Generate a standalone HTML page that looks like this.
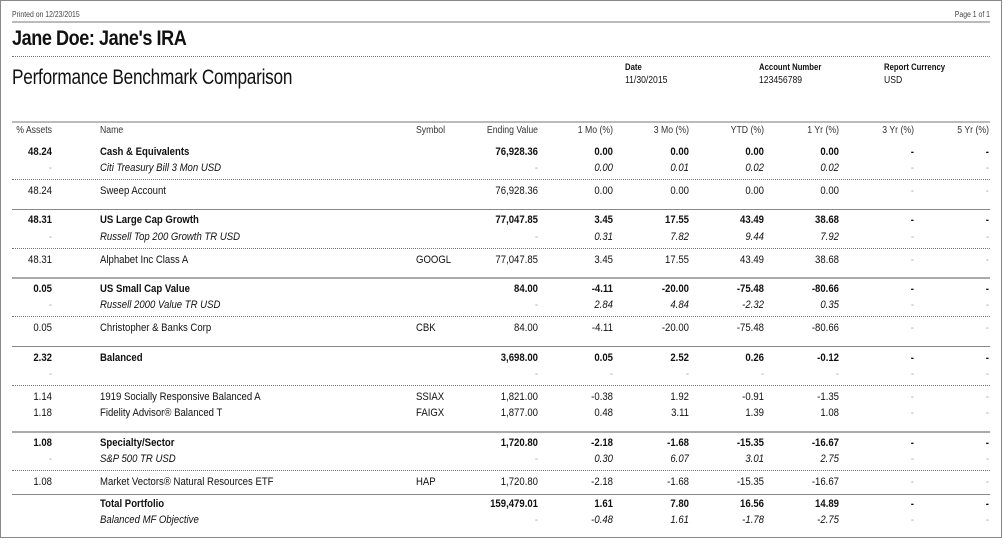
<!DOCTYPE html>
<html><head><meta charset="utf-8"><style>
*{margin:0;padding:0;box-sizing:border-box}
body{width:1003px;height:546px;background:#fff;position:relative;overflow:hidden;font-family:"Liberation Sans Narrow","Liberation Sans",sans-serif;color:#111}
.frame{position:absolute;left:0;top:0;width:1002px;height:538px;border:1px solid #888}
.a{position:absolute;transform:scaleX(0.86);transform-origin:left top;white-space:nowrap}
.ar{transform-origin:right top}
.hl{position:absolute;left:12px;width:978px}
.sg{border-top:2px solid #bbb}
.s{border-top:1px solid #888}
.s2{border-top:2px solid #aaa}
.d{border-top:1px dotted #777}
.r{position:absolute;left:0;width:1003px;height:14px;line-height:14px;font-size:11px}
.r span{position:absolute;top:0;white-space:nowrap;transform:scaleX(0.87);transform-origin:right center}
.r span.c1,.r span.c2{transform-origin:left center}
.c0{left:0;width:52px;text-align:right}
.c1{left:100px}
.c2{left:416px}
.c3{left:440px;width:98px;text-align:right}
.c4{left:553px;width:60px;text-align:right}
.c5{left:629px;width:60px;text-align:right}
.c6{left:704px;width:60px;text-align:right}
.c7{left:779px;width:60px;text-align:right}
.c8{left:854px;width:60px;text-align:right}
.c9{left:929px;width:60px;text-align:right}
.b{font-weight:bold}
.i{font-style:italic}
.g{color:#aaa}
.h{font-size:10px;color:#333}
</style></head><body>
<div class="frame"></div>
<div class="a" style="left:12px;top:10px;font-size:8px;color:#444">Printed on 12/23/2015</div>
<div class="a ar" style="left:940px;top:10px;width:50px;text-align:right;font-size:8px;color:#444">Page 1 of 1</div>
<div class="hl sg" style="top:21px"></div>
<div class="a" style="left:12px;top:27px;font-size:21px;font-weight:bold;letter-spacing:-0.5px">Jane Doe: Jane's IRA</div>
<div class="hl d" style="top:56px"></div>
<div class="a" style="left:12px;top:66px;font-size:21px;letter-spacing:-0.3px;transform:scaleX(0.82)">Performance Benchmark Comparison</div>
<div class="a b" style="left:625px;top:62px;font-size:9px">Date</div>
<div class="a" style="left:625px;top:75px;font-size:10px">11/30/2015</div>
<div class="a b" style="left:759px;top:62px;font-size:9px">Account Number</div>
<div class="a" style="left:759px;top:75px;font-size:10px">123456789</div>
<div class="a b" style="left:884px;top:62px;font-size:9px">Report Currency</div>
<div class="a" style="left:884px;top:75px;font-size:10px">USD</div>
<div class="hl sg" style="top:121px"></div>

<div class="r h" style="top:124px"><span class="c0">% Assets</span><span class="c1">Name</span><span class="c2">Symbol</span><span class="c3">Ending Value</span><span class="c4">1 Mo (%)</span><span class="c5">3 Mo (%)</span><span class="c6">YTD (%)</span><span class="c7">1 Yr (%)</span><span class="c8">3 Yr (%)</span><span class="c9">5 Yr (%)</span></div>

<div class="r b" style="top:145px"><span class="c0">48.24</span><span class="c1">Cash &amp; Equivalents</span><span class="c3">76,928.36</span><span class="c4">0.00</span><span class="c5">0.00</span><span class="c6">0.00</span><span class="c7">0.00</span><span class="c8">-</span><span class="c9">-</span></div>
<div class="r i" style="top:161px"><span class="c0 g">-</span><span class="c1">Citi Treasury Bill 3 Mon USD</span><span class="c3 g">-</span><span class="c4">0.00</span><span class="c5">0.01</span><span class="c6">0.02</span><span class="c7">0.02</span><span class="c8 g">-</span><span class="c9 g">-</span></div>
<div class="hl d" style="top:179px"></div>
<div class="r" style="top:184px"><span class="c0">48.24</span><span class="c1">Sweep Account</span><span class="c3">76,928.36</span><span class="c4">0.00</span><span class="c5">0.00</span><span class="c6">0.00</span><span class="c7">0.00</span><span class="c8 g">-</span><span class="c9 g">-</span></div>
<div class="hl s" style="top:209px"></div>

<div class="r b" style="top:213px"><span class="c0">48.31</span><span class="c1">US Large Cap Growth</span><span class="c3">77,047.85</span><span class="c4">3.45</span><span class="c5">17.55</span><span class="c6">43.49</span><span class="c7">38.68</span><span class="c8">-</span><span class="c9">-</span></div>
<div class="r i" style="top:230px"><span class="c0 g">-</span><span class="c1">Russell Top 200 Growth TR USD</span><span class="c3 g">-</span><span class="c4">0.31</span><span class="c5">7.82</span><span class="c6">9.44</span><span class="c7">7.92</span><span class="c8 g">-</span><span class="c9 g">-</span></div>
<div class="hl d" style="top:248px"></div>
<div class="r" style="top:253px"><span class="c0">48.31</span><span class="c1">Alphabet Inc Class A</span><span class="c2">GOOGL</span><span class="c3">77,047.85</span><span class="c4">3.45</span><span class="c5">17.55</span><span class="c6">43.49</span><span class="c7">38.68</span><span class="c8 g">-</span><span class="c9 g">-</span></div>
<div class="hl s2" style="top:277px"></div>

<div class="r b" style="top:282px"><span class="c0">0.05</span><span class="c1">US Small Cap Value</span><span class="c3">84.00</span><span class="c4">-4.11</span><span class="c5">-20.00</span><span class="c6">-75.48</span><span class="c7">-80.66</span><span class="c8">-</span><span class="c9">-</span></div>
<div class="r i" style="top:298px"><span class="c0 g">-</span><span class="c1">Russell 2000 Value TR USD</span><span class="c3 g">-</span><span class="c4">2.84</span><span class="c5">4.84</span><span class="c6">-2.32</span><span class="c7">0.35</span><span class="c8 g">-</span><span class="c9 g">-</span></div>
<div class="hl d" style="top:316px"></div>
<div class="r" style="top:321px"><span class="c0">0.05</span><span class="c1">Christopher &amp; Banks Corp</span><span class="c2">CBK</span><span class="c3">84.00</span><span class="c4">-4.11</span><span class="c5">-20.00</span><span class="c6">-75.48</span><span class="c7">-80.66</span><span class="c8 g">-</span><span class="c9 g">-</span></div>
<div class="hl s" style="top:346px"></div>

<div class="r b" style="top:351px"><span class="c0">2.32</span><span class="c1">Balanced</span><span class="c3">3,698.00</span><span class="c4">0.05</span><span class="c5">2.52</span><span class="c6">0.26</span><span class="c7">-0.12</span><span class="c8">-</span><span class="c9">-</span></div>
<div class="r i" style="top:367px"><span class="c0 g">-</span><span class="c3 g">-</span><span class="c4 g">-</span><span class="c5 g">-</span><span class="c6 g">-</span><span class="c7 g">-</span><span class="c8 g">-</span><span class="c9 g">-</span></div>
<div class="hl d" style="top:385px"></div>
<div class="r" style="top:390px"><span class="c0">1.14</span><span class="c1">1919 Socially Responsive Balanced A</span><span class="c2">SSIAX</span><span class="c3">1,821.00</span><span class="c4">-0.38</span><span class="c5">1.92</span><span class="c6">-0.91</span><span class="c7">-1.35</span><span class="c8 g">-</span><span class="c9 g">-</span></div>
<div class="r" style="top:406px"><span class="c0">1.18</span><span class="c1">Fidelity Advisor® Balanced T</span><span class="c2">FAIGX</span><span class="c3">1,877.00</span><span class="c4">0.48</span><span class="c5">3.11</span><span class="c6">1.39</span><span class="c7">1.08</span><span class="c8 g">-</span><span class="c9 g">-</span></div>
<div class="hl s2" style="top:431px"></div>

<div class="r b" style="top:436px"><span class="c0">1.08</span><span class="c1">Specialty/Sector</span><span class="c3">1,720.80</span><span class="c4">-2.18</span><span class="c5">-1.68</span><span class="c6">-15.35</span><span class="c7">-16.67</span><span class="c8">-</span><span class="c9">-</span></div>
<div class="r i" style="top:452px"><span class="c0 g">-</span><span class="c1">S&amp;P 500 TR USD</span><span class="c3 g">-</span><span class="c4">0.30</span><span class="c5">6.07</span><span class="c6">3.01</span><span class="c7">2.75</span><span class="c8 g">-</span><span class="c9 g">-</span></div>
<div class="hl d" style="top:470px"></div>
<div class="r" style="top:475px"><span class="c0">1.08</span><span class="c1">Market Vectors® Natural Resources ETF</span><span class="c2">HAP</span><span class="c3">1,720.80</span><span class="c4">-2.18</span><span class="c5">-1.68</span><span class="c6">-15.35</span><span class="c7">-16.67</span><span class="c8 g">-</span><span class="c9 g">-</span></div>
<div class="hl s" style="top:494px"></div>

<div class="r b" style="top:497px"><span class="c1">Total Portfolio</span><span class="c3">159,479.01</span><span class="c4">1.61</span><span class="c5">7.80</span><span class="c6">16.56</span><span class="c7">14.89</span><span class="c8">-</span><span class="c9">-</span></div>
<div class="r i" style="top:513px"><span class="c1">Balanced MF Objective</span><span class="c3 g">-</span><span class="c4">-0.48</span><span class="c5">1.61</span><span class="c6">-1.78</span><span class="c7">-2.75</span><span class="c8 g">-</span><span class="c9 g">-</span></div>
</body></html>
